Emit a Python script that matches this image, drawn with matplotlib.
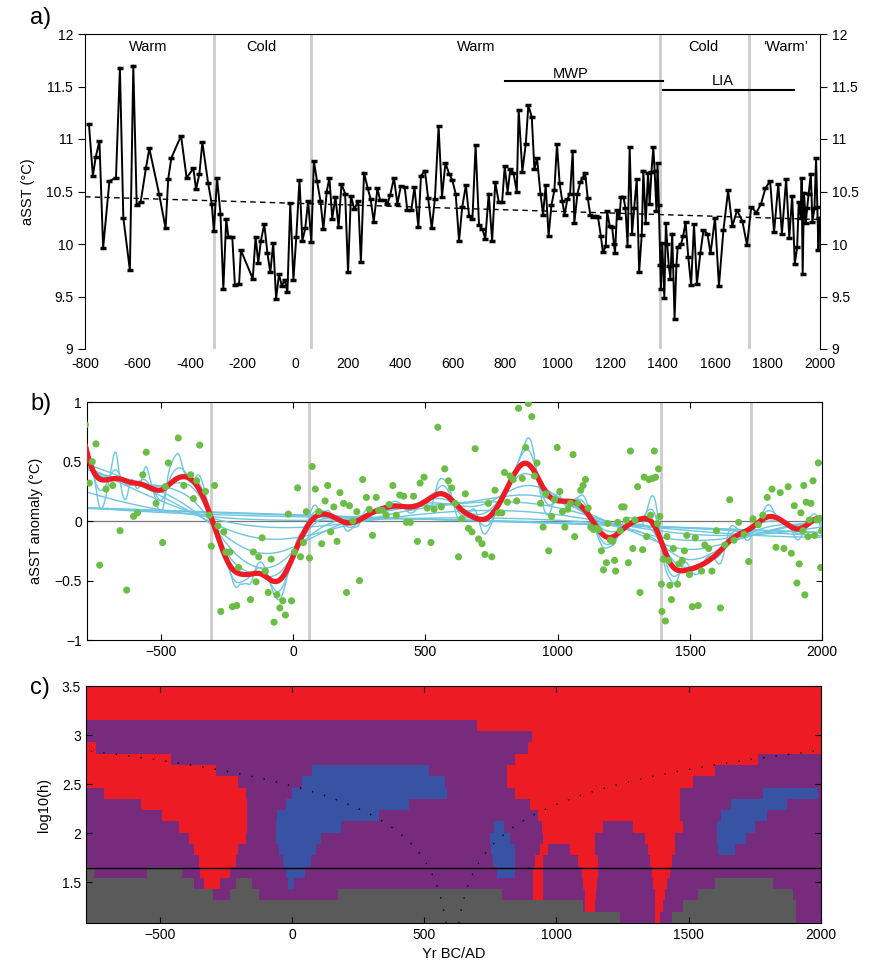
import numpy as np
import matplotlib
matplotlib.use('Agg')
import matplotlib.pyplot as plt

plt.rcParams['font.family'] = ['Liberation Sans', 'DejaVu Sans']
plt.rcParams['font.size'] = 10
plt.rcParams['axes.unicode_minus'] = False

# aSST record
years = np.array([
    -785, -770, -759, -745, -731, -707, -682, -667, -654, -629, -616, -603, -588, -568, -555,
    -518, -493, -483, -471, -434, -413, -387, -377, -364, -353, -331, -317, -309, -297, -284,
    -273, -262, -254, -239, -229, -213, -206, -161, -150, -140, -130, -117, -105, -94, -83,
    -72, -61, -50, -39, -29, -18, -6, 5, 17, 28, 39, 50, 62, 72, 84,
    97, 108, 121, 131, 142, 154, 166, 177, 191, 202, 213, 226, 241, 251, 263,
    277, 288, 300, 314, 324, 339, 352, 363, 377, 390, 403, 418, 428, 443, 455,
    470, 480, 495, 507, 521, 533, 547, 560, 573, 587, 599, 612, 625, 637, 651,
    663, 676, 688, 701, 714, 725, 738, 751, 763, 776, 789, 799, 810, 820, 832,
    845, 852, 866, 879, 889, 902, 912, 922, 935, 945, 955, 966, 977, 988, 998,
    1008, 1018, 1027, 1038, 1048, 1058, 1064, 1076, 1087, 1096, 1105, 1115, 1125, 1135, 1146,
    1154, 1165, 1173, 1184, 1189, 1199, 1208, 1215, 1219, 1227, 1236, 1242, 1251, 1259, 1267,
    1275, 1284, 1292, 1302, 1311, 1321, 1327, 1336, 1345, 1351, 1358, 1365, 1370, 1377, 1381,
    1386, 1392, 1394, 1399, 1407, 1413, 1418, 1424, 1430, 1437, 1446, 1453, 1458, 1471, 1479,
    1488, 1498, 1509, 1520, 1531, 1544, 1556, 1571, 1583, 1600, 1615, 1632, 1650, 1666, 1684,
    1704, 1722, 1738, 1758, 1775, 1792, 1810, 1825, 1841, 1855, 1871, 1883, 1894, 1904, 1913,
    1919, 1927, 1930, 1934, 1939, 1946, 1951, 1957, 1965, 1971, 1979, 1985, 1990, 1994, 1998])
asst = np.array([
    11.14, 10.65, 10.83, 10.98, 9.96, 10.60, 10.63, 11.68, 10.25, 9.75, 11.70, 10.37, 10.40, 10.72, 10.91,
    10.48, 10.15, 10.62, 10.82, 11.03, 10.63, 10.72, 10.52, 10.67, 10.97, 10.58, 10.38, 10.12, 10.63, 10.29,
    9.57, 10.24, 10.07, 10.07, 9.61, 9.62, 9.94, 9.67, 10.07, 9.82, 10.03, 10.19, 9.91, 9.73, 10.01,
    9.48, 9.71, 9.60, 9.66, 9.54, 10.39, 9.66, 10.07, 10.61, 10.03, 10.15, 10.41, 10.02, 10.79, 10.60,
    10.41, 10.14, 10.50, 10.63, 10.24, 10.45, 10.16, 10.57, 10.48, 9.73, 10.46, 10.33, 10.41, 9.83, 10.68,
    10.53, 10.43, 10.21, 10.53, 10.42, 10.42, 10.38, 10.47, 10.63, 10.38, 10.55, 10.54, 10.32, 10.32, 10.54,
    10.16, 10.65, 10.70, 10.44, 10.15, 10.43, 11.12, 10.45, 10.77, 10.67, 10.61, 10.48, 10.03, 10.35, 10.56,
    10.27, 10.24, 10.94, 10.18, 10.14, 10.05, 10.48, 10.03, 10.59, 10.40, 10.40, 10.74, 10.49, 10.71, 10.68,
    10.50, 11.28, 10.69, 10.95, 11.32, 11.21, 10.71, 10.82, 10.48, 10.28, 10.56, 10.08, 10.37, 10.51, 10.95,
    10.58, 10.41, 10.28, 10.43, 10.48, 10.89, 10.20, 10.48, 10.59, 10.63, 10.68, 10.44, 10.28, 10.26, 10.27,
    10.26, 10.08, 9.92, 9.98, 10.31, 10.17, 10.16, 10.00, 9.91, 10.32, 10.25, 10.45, 10.45, 10.34, 9.98,
    10.92, 10.10, 10.34, 10.62, 9.73, 10.09, 10.70, 10.20, 10.68, 10.38, 10.69, 10.92, 10.70, 10.31, 10.77,
    10.37, 9.80, 9.57, 10.01, 9.49, 10.20, 10.00, 9.79, 9.67, 10.10, 9.29, 9.80, 9.97, 10.00, 10.08,
    10.21, 9.88, 9.61, 10.19, 9.62, 9.91, 10.13, 10.10, 9.91, 10.25, 9.60, 10.13, 10.51, 10.17, 10.32,
    10.22, 9.99, 10.35, 10.30, 10.38, 10.53, 10.60, 10.11, 10.57, 10.10, 10.62, 10.06, 10.46, 9.81, 9.97,
    10.40, 10.25, 10.63, 9.71, 10.49, 10.20, 10.34, 10.48, 10.67, 10.21, 10.34, 10.82, 10.35, 9.94, 10.25])

period_lines = [-310, 60, 1390, 1730]
period_names = ['Warm', 'Cold', 'Warm', 'Cold', '\u2018Warm\u2019']
period_pos = [-560, -130, 690, 1555, 1870]
mwp = [800, 1400]
lia = [1400, 1900]

# SiZer family
log_h_family = [1.25, 1.45, 1.8, 2.0, 2.2, 2.4, 2.6, 2.8, 3.0, 3.2, 3.4]
log_h_red = 1.65

# SiZer map, one list per bandwidth row (top = largest h)
# each entry: (colour code, right end year)
sizer_rows = [
    [('R', 2100)],
    [('R', 2100)],
    [('R', 2100)],
    [('P', 699), ('R', 2100)],
    [('P', 907), ('R', 2100)],
    [('R', -743), ('P', 894), ('R', 2100)],
    [('R', -459), ('P', 844), ('R', 1763), ('P', 2100)],
    [('R', -287), ('P', 76), ('B', 516), ('P', 812), ('R', 1600), ('P', 2100)],
    [('R', -204), ('P', 36), ('B', 579), ('P', 812), ('R', 1518), ('P', 2100)],
    [('P', -711), ('R', -176), ('P', 0), ('B', 586), ('P', 844), ('R', 1467), ('P', 1782), ('B', 1990), ('P', 2100)],
    [('P', -573), ('R', -170), ('P', -25), ('B', 441), ('P', 901), ('R', 1467), ('P', 1660), ('B', 1874), ('P', 2100)],
    [('P', -491), ('R', -170), ('P', -56), ('B', 328), ('P', 932), ('R', 1467), ('P', 1622), ('B', 1795), ('P', 2100)],
    [('P', -428), ('R', -170), ('P', -60), ('B', 183), ('P', 762), ('B', 800), ('P', 945), ('R', 1177),
     ('P', 1291), ('R', 1480), ('P', 1606), ('B', 1751), ('P', 2100)],
    [('P', -390), ('R', -176), ('P', -60), ('B', 111), ('P', 747), ('B', 825), ('P', 948), ('R', 1146),
     ('P', 1335), ('R', 1448), ('P', 1606), ('B', 1719), ('P', 2100)],
    [('P', -371), ('R', -204), ('P', -50), ('B', 91), ('P', 752), ('B', 844), ('P', 936), ('R', 970),
     ('P', 1052), ('R', 1146), ('P', 1348), ('R', 1448), ('P', 1612), ('B', 1675), ('P', 2100)],
    [('P', -353), ('R', -214), ('P', -35), ('B', 72), ('P', 760), ('B', 844), ('P', 919), ('R', 951),
     ('P', 1083), ('R', 1158), ('P', 1354), ('R', 1436), ('P', 2100)],
    [('G', -748), ('P', -548), ('G', -415), ('P', -350), ('R', -236), ('P', -25), ('B', 48), ('P', 775),
     ('B', 844), ('P', 913), ('R', 948), ('P', 1096), ('R', 1158), ('P', 1360), ('R', 1429), ('P', 2100)],
    [('G', -371), ('P', -334), ('R', -272), ('P', -214), ('G', -153), ('P', -14), ('B', 7), ('P', 913),
     ('R', 948), ('P', 1102), ('R', 1152), ('P', 1366), ('R', 1420), ('P', 1600), ('G', 1820), ('P', 2100)],
    [('G', -300), ('P', -236), ('G', -126), ('P', 172), ('G', 793), ('P', 913), ('R', 948), ('P', 1108),
     ('R', 1148), ('P', 1373), ('R', 1410), ('P', 1536), ('G', 1896), ('P', 2100)],
    [('G', 1100), ('P', 1108), ('R', 1146), ('P', 1373), ('R', 1404), ('P', 1480), ('G', 1908), ('P', 2100)],
    [('G', 1240), ('P', 1373), ('R', 1392), ('P', 1436), ('G', 1908), ('P', 2100)],
]
sizer_colors = {'R': '#ed1c24', 'P': '#772b7d', 'B': '#3953a4', 'G': '#5a5a5a'}
log_h_top, log_h_bottom = 3.5, 1.085
x_lo, x_hi = -780, 2000


def loclin(xg, x, y, h):
    d = x[None, :] - xg[:, None]
    w = np.exp(-0.5 * (d / h) ** 2)
    s0 = w.sum(1); s1 = (w * d).sum(1); s2 = (w * d * d).sum(1)
    t0 = (w * y).sum(1); t1 = (w * d * y).sum(1)
    return (s2 * t0 - s1 * t1) / (s2 * s0 - s1 ** 2)


fig = plt.figure(figsize=(8.72, 9.69), dpi=100)
W, H = 872, 969


def add_ax(l, t, r, b):
    return fig.add_axes([l / W, 1 - b / H, (r - l) / W, (b - t) / H])


# ---------- a)
ax1 = add_ax(85, 34, 820, 349)
for x in period_lines:
    ax1.axvline(x, color='#cccccc', lw=2, zorder=1)
coef = np.polyfit(years, asst, 1)
xt = np.array([-800, 2000])
ax1.plot(xt, np.polyval(coef, xt), 'k--', lw=1, dashes=(4, 3), zorder=2)
ax1.plot(years, asst, '-', color='k', lw=1.4, marker='_', ms=4.5, mew=2.5, zorder=3)
for name, px in zip(period_names, period_pos):
    ax1.text(px, 11.88, name, ha='center', va='center', fontsize=10.5)
ax1.plot(mwp, [11.55, 11.55], 'k-', lw=1.5)
ax1.text(np.mean(mwp) - 50, 11.62, 'MWP', ha='center', va='center', fontsize=10.5)
ax1.plot(lia, [11.47, 11.47], 'k-', lw=1.5)
ax1.text(np.mean(lia) - 20, 11.55, 'LIA', ha='center', va='center', fontsize=10.5)
ax1.set_xlim(-800, 2000)
ax1.set_ylim(9, 12)
ax1.set_xticks(np.arange(-800, 2001, 200))
ax1.set_yticks(np.arange(9, 12.01, 0.5))
ax1.set_yticklabels(['9', '9.5', '10', '10.5', '11', '11.5', '12'])
ax1.tick_params(axis='y', direction='out', right=True, labelright=True, length=5)
ax1.tick_params(axis='x', direction='out', length=0, pad=6)
ax1.spines['bottom'].set_visible(False)
ax1.set_ylabel('aSST (\u00b0C)', fontsize=10.5, labelpad=8)

# ---------- b)
anom = asst - asst.mean()
xg = np.linspace(years.min(), years.max(), 600)
ax2 = add_ax(86.7, 402.3, 822.3, 640)
for x in period_lines:
    ax2.axvline(x, color='#cccccc', lw=2, zorder=1)
ax2.axhline(0, color='#777777', lw=0.9, zorder=1)
for lh in log_h_family:
    ax2.plot(xg, loclin(xg, years, anom, 10 ** lh), color='#6ec6e0', lw=1, zorder=2)
ax2.plot(xg, loclin(xg, years, anom, 10 ** log_h_red), color='#ed1c24', lw=3.8, zorder=3)
ax2.scatter(years, anom, s=26, color='#6cbd45', edgecolors='none', zorder=4)
ax2.set_xlim(x_lo, x_hi)
ax2.set_ylim(-1, 1)
ax2.set_xticks([-500, 0, 500, 1000, 1500, 2000])
ax2.set_xticklabels(['\u2212500', '0', '500', '1000', '1500', '2000'])
ax2.set_yticks([-1, -0.5, 0, 0.5, 1])
ax2.set_yticklabels(['\u22121', '\u22120.5', '0', '0.5', '1'])
ax2.tick_params(direction='in', top=True, right=True, length=4)
ax2.set_ylabel('aSST anomaly (\u00b0C)', fontsize=10.5, labelpad=8)

# ---------- c)
ax3 = add_ax(86, 686, 820.7, 923)
edges = np.linspace(log_h_top, log_h_bottom, len(sizer_rows) + 1)
for i, row in enumerate(sizer_rows):
    start = -900
    for code, end in row:
        ax3.broken_barh([(start, end - start)], (edges[i + 1], edges[i] - edges[i + 1]),
                        facecolors=sizer_colors[code], edgecolor='none', linewidth=0,
                        antialiased=False)
        start = end
ax3.axhline(log_h_red, color='k', lw=1)
mid = (years.min() + years.max()) / 2
hh = np.linspace(log_h_bottom, 3.0, 200)
for s in (-1, 1):
    xd = mid + s * 2 * 10 ** hh
    ok = (xd >= x_lo) & (xd <= x_hi)
    ax3.plot(xd[ok], hh[ok], color='k', lw=1, linestyle=(0, (1, 8)))
ax3.set_xlim(x_lo, x_hi)
ax3.set_ylim(log_h_bottom, log_h_top)
ax3.set_xticks([-500, 0, 500, 1000, 1500, 2000])
ax3.set_xticklabels(['\u2212500', '0', '500', '1000', '1500', '2000'])
ax3.set_yticks([1.5, 2, 2.5, 3, 3.5])
ax3.set_yticklabels(['1.5', '2', '2.5', '3', '3.5'])
ax3.tick_params(direction='in', top=True, right=True, length=4)
ax3.set_ylabel('log10(h)', fontsize=10.5, labelpad=8)
ax3.set_xlabel('Yr BC/AD', fontsize=10.5)

fig.text(30 / W, 1 - 18 / H, 'a)', fontsize=17, va='center')
fig.text(30 / W, 1 - 404 / H, 'b)', fontsize=17, va='center')
fig.text(30 / W, 1 - 688 / H, 'c)', fontsize=17, va='center')

fig.savefig('out.png', dpi=100)
